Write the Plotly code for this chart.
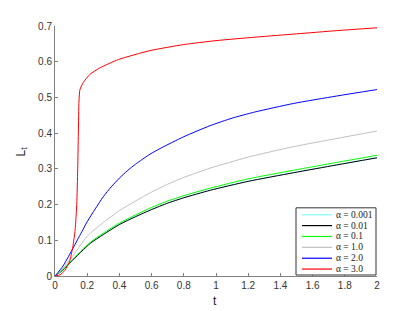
import plotly.graph_objects as go

# ---- data ----
t_red = [0, 0.03, 0.06, 0.09, 0.11, 0.125, 0.135, 0.141, 0.145, 0.149, 0.155, 0.176, 0.218, 0.28, 0.394, 0.59, 0.8, 1.0, 1.25, 1.5, 1.75, 2.0]
v_red = [0, 0.003, 0.015, 0.04, 0.08, 0.13, 0.2, 0.3, 0.4, 0.49, 0.522, 0.542, 0.565, 0.583, 0.606, 0.631, 0.648, 0.659, 0.669, 0.678, 0.687, 0.695]

t_blue = [0, 0.05, 0.1, 0.15, 0.2, 0.25, 0.3, 0.35, 0.4, 0.45, 0.5, 0.59, 0.653, 0.8, 0.964, 1.1, 1.24, 1.48, 1.75, 2.0]
v_blue = [0, 0.028, 0.068, 0.11, 0.152, 0.188, 0.222, 0.25, 0.274, 0.295, 0.313, 0.341, 0.357, 0.39, 0.421, 0.442, 0.459, 0.483, 0.504, 0.522]

t_gray = [0, 0.05, 0.1, 0.2, 0.3, 0.4, 0.5, 0.6, 0.7, 0.8, 0.964, 1.2, 1.48, 1.75, 2.0]
v_gray = [0, 0.022, 0.05, 0.111, 0.15, 0.183, 0.21, 0.235, 0.257, 0.276, 0.302, 0.333, 0.362, 0.385, 0.406]

t_green = [0, 0.05, 0.1, 0.218, 0.3, 0.4, 0.5, 0.6, 0.7, 0.8, 0.964, 1.2, 1.48, 1.75, 2.0]
v_green = [0, 0.018, 0.042, 0.094, 0.12, 0.148, 0.171, 0.192, 0.21, 0.225, 0.246, 0.272, 0.296, 0.318, 0.338]

t_black = [0, 0.05, 0.1, 0.218, 0.3, 0.4, 0.5, 0.6, 0.7, 0.8, 0.964, 1.2, 1.48, 1.75, 2.0]
v_black = [0, 0.017, 0.04, 0.091, 0.116, 0.144, 0.166, 0.186, 0.204, 0.219, 0.24, 0.265, 0.289, 0.311, 0.331]

t_cyan = [0, 0.05, 0.1, 0.218, 0.3, 0.4, 0.5, 0.6, 0.7, 0.8, 0.964, 1.2, 1.48, 1.75, 2.0]
v_cyan = [0, 0.0172, 0.0404, 0.0915, 0.1165, 0.1445, 0.1665, 0.1865, 0.2045, 0.2195, 0.2405, 0.2655, 0.2895, 0.3115, 0.3315]

labels = ["α = 0.001", "α = 0.01", "α = 0.1", "α = 1.0", "α = 2.0", "α = 3.0"]
colors = ["#80ffff", "#000000", "#00ff00", "#c0c0c0", "#0000ff", "#ff0000"]
series = [(t_cyan, v_cyan), (t_black, v_black), (t_green, v_green),
          (t_gray, v_gray), (t_blue, v_blue), (t_red, v_red)]

x_ticks = [0, 0.2, 0.4, 0.6, 0.8, 1, 1.2, 1.4, 1.6, 1.8, 2]
x_ticktext = ["0", "0.2", "0.4", "0.6", "0.8", "1", "1.2", "1.4", "1.6", "1.8", "2"]
y_ticks = [0, 0.1, 0.2, 0.3, 0.4, 0.5, 0.6, 0.7]
y_ticktext = ["0", "0.1", "0.2", "0.3", "0.4", "0.5", "0.6", "0.7"]

OFF = 8  # default page body margin
W, H = 415 - OFF, 311 - OFF
ML, MR, MT, MB = 55 - OFF, 38, 23 - OFF, 35
PW, PH = W - ML - MR, H - MT - MB

def px(x):
    return (x - OFF - ML) / PW

def py(y):
    return (OFF + MT + PH - y) / PH

fig = go.Figure()
for (tx, vy), lab, col in zip(series, labels, colors):
    fig.add_trace(go.Scatter(
        x=tx, y=vy, mode="lines", name=lab, showlegend=False,
        line=dict(color=col, width=1.0, shape="spline", smoothing=0.6),
    ))

# manual compact legend (box, sample lines, serif labels)
shapes = [dict(type="rect", xref="paper", yref="paper",
               x0=px(296), x1=px(376), y0=py(275), y1=py(207),
               line=dict(color="#333333", width=1), fillcolor="white", layer="above")]
annotations = []
for i, (lab, col) in enumerate(zip(labels, colors)):
    yy = 214 + 11 * i
    shapes.append(dict(type="line", xref="paper", yref="paper",
                       x0=px(302), x1=px(332), y0=py(yy), y1=py(yy),
                       line=dict(color=col, width=1.2), layer="above"))
    annotations.append(dict(xref="paper", yref="paper", x=px(334), y=py(yy),
                            xanchor="left", yanchor="middle", showarrow=False,
                            text=lab, font=dict(family="Liberation Serif", size=9.5, color="#222222")))

annotations.append(dict(xref="paper", yref="paper", x=px(215), y=py(301),
                        xanchor="center", yanchor="middle", showarrow=False,
                        text="t", font=dict(family="Liberation Sans", size=12, color="#222222")))
annotations.append(dict(xref="paper", yref="paper", x=px(22), y=py(150),
                        xanchor="center", yanchor="middle", showarrow=False, textangle=-90,
                        text="L<sub>t</sub>", font=dict(family="Liberation Sans", size=12, color="#222222")))

axis_common = dict(showgrid=False, zeroline=False, showline=True, linecolor="#808080",
                   linewidth=1, ticks="inside", ticklen=3, tickcolor="#808080",
                   tickfont=dict(family="Liberation Sans", size=10, color="#333333"), mirror=False)

fig.update_layout(
    width=W, height=H,
    margin=dict(l=ML, r=MR, t=MT, b=MB),
    paper_bgcolor="white", plot_bgcolor="white",
    xaxis=dict(range=[0, 2], tickvals=x_ticks, ticktext=x_ticktext, **axis_common),
    yaxis=dict(range=[0, 0.7], tickvals=y_ticks, ticktext=y_ticktext, **axis_common),
    shapes=shapes, annotations=annotations, showlegend=False,
)

fig.write_html("out.html")
